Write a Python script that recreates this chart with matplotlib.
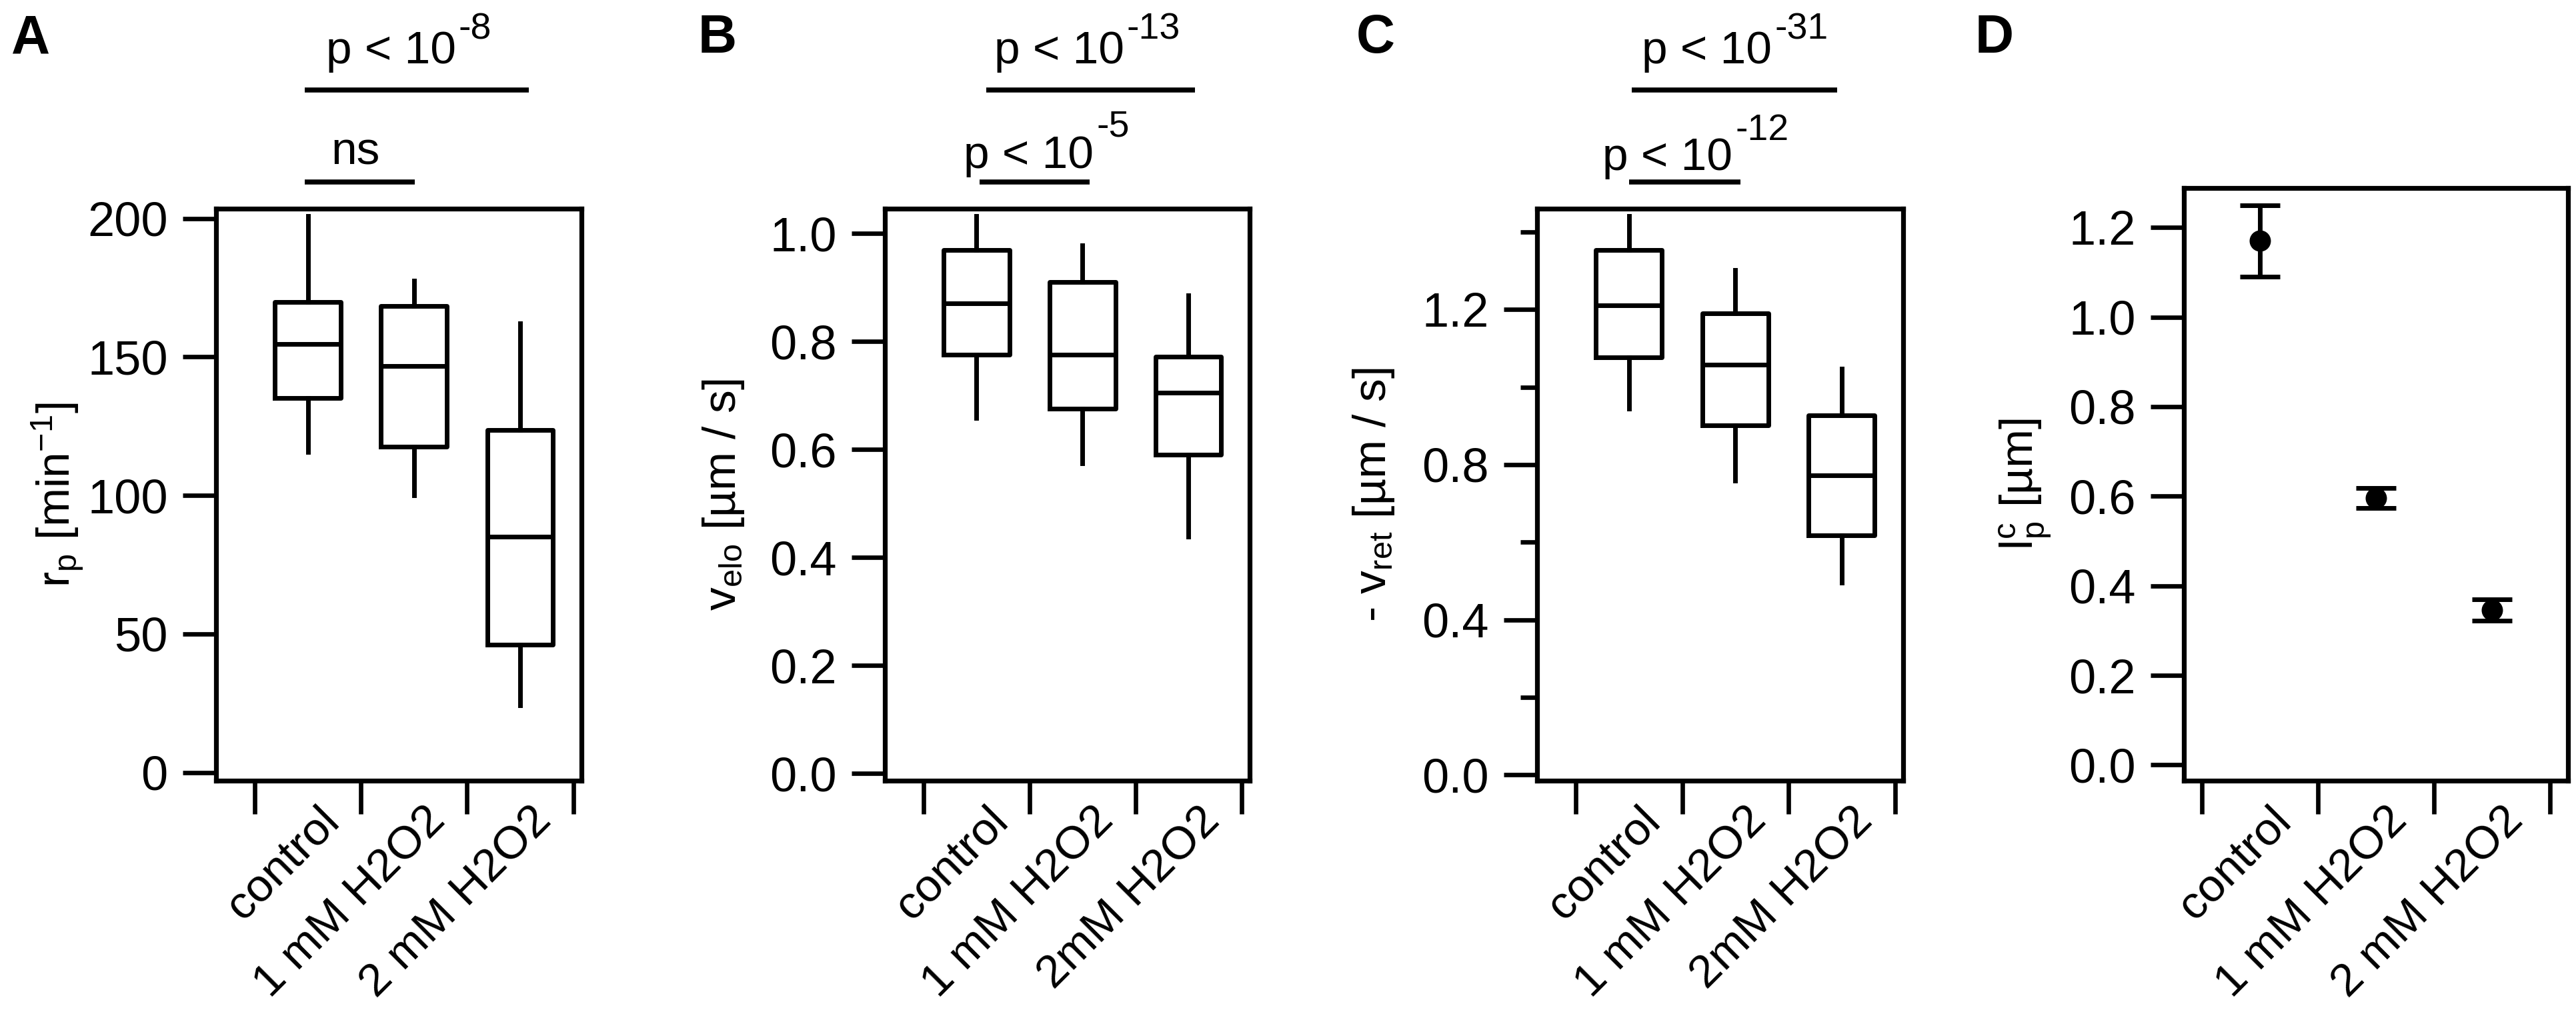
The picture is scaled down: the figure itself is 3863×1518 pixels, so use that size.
import matplotlib
matplotlib.use("Agg")
import matplotlib.pyplot as plt
from matplotlib.transforms import ScaledTranslation, blended_transform_factory

plt.rcParams['font.family'] = ['Liberation Sans', 'DejaVu Sans']
plt.rcParams['mathtext.fontset'] = 'custom'
plt.rcParams['mathtext.rm'] = 'Liberation Sans'
plt.rcParams['mathtext.it'] = 'Liberation Sans:italic'
plt.rcParams['mathtext.bf'] = 'Liberation Sans:bold'
plt.rcParams['mathtext.default'] = 'regular'

# ---------------- data ----------------
cats_AD = ["control", "1 mM H2O2", "2 mM H2O2"]
cats_BC = ["control", "1 mM H2O2", "2mM H2O2"]

# A: r_p [min^-1]
rp_whislo = [115.7, 100.1, 24.2]
rp_q1 = [135.2, 117.5, 46.0]
rp_med = [154.6, 146.8, 85.1]
rp_q3 = [169.8, 168.3, 123.7]
rp_whishi = [200.8, 177.5, 162.1]

# B: v_elo [um/s]
velo_whislo = [0.659, 0.575, 0.439]
velo_q1 = [0.776, 0.676, 0.590]
velo_med = [0.871, 0.776, 0.705]
velo_q3 = [0.969, 0.910, 0.772]
velo_whishi = [1.032, 0.978, 0.886]

# C: -v_ret [um/s]
vret_whislo = [0.944, 0.758, 0.495]
vret_q1 = [1.077, 0.902, 0.618]
vret_med = [1.210, 1.058, 0.773]
vret_q3 = [1.353, 1.190, 0.927]
vret_whishi = [1.441, 1.302, 1.047]

# D: l_p^c [um]
lp_mean = [1.170, 0.596, 0.346]
lp_err = [0.080, 0.023, 0.024]

# significance annotations
sigA = [("p < 10", "-8"), ("ns", None)]
sigB = [("p < 10", "-13"), ("p < 10", "-5")]
sigC = [("p < 10", "-31"), ("p < 10", "-12")]

# ---------------- layout ----------------
W, H, DPI = 3863, 1518, 200
fig = plt.figure(figsize=(W / DPI, H / DPI), dpi=DPI)

def rect(l, t, r, b):
    return [l / W, 1 - b / H, (r - l) / W, (b - t) / H]

LW = 2.5
TICKLEN = 18
FS_YTICK = 26
FS_XTICK = 25
FS_LAB = 25

axA = fig.add_axes(rect(324, 313, 872, 1171))
axB = fig.add_axes(rect(1327, 313, 1874, 1171))
axC = fig.add_axes(rect(2305, 313, 2854, 1171))
axD = fig.add_axes(rect(3275, 282, 3851, 1171))


def style(ax, cats, xlim, ylim, yticks, yfmt, ylabel, labx, yminor=None):
    for s in ax.spines.values():
        s.set_linewidth(2.6)
    ax.set_xlim(*xlim)
    ax.set_ylim(*ylim)
    ax.set_yticks(yticks)
    ax.set_yticklabels([yfmt.format(v) for v in yticks])
    if yminor is not None:
        ax.set_yticks(yminor, minor=True)
    ax.set_xticks([0.5, 1.5, 2.5, 3.5])
    ax.set_xticklabels([])
    ax.set_xticks([1, 2, 3], minor=True)
    ax.tick_params(axis='both', which='major', direction='out', length=TICKLEN,
                   width=2.4, labelsize=FS_YTICK, pad=8)
    ax.tick_params(axis='y', which='minor', direction='out', length=9, width=2.4)
    ax.tick_params(axis='x', which='minor', length=0, pad=10, labelsize=FS_XTICK)
    ax.set_xticklabels(cats, minor=True, rotation=45, ha='right', va='top',
                       rotation_mode='anchor')
    for lbl in ax.get_xticklabels(minor=True):
        lbl.set_transform(lbl.get_transform() +
                          ScaledTranslation(14 / DPI, 0, fig.dpi_scale_trans))
    ax.set_ylabel(ylabel, fontsize=FS_LAB)
    ax.yaxis.set_label_coords(labx, 0.5)


def boxes(ax, lo, q1, med, q3, hi):
    stats = [dict(whislo=a, q1=b, med=c, q3=d, whishi=e, fliers=[])
             for a, b, c, d, e in zip(lo, q1, med, q3, hi)]
    ax.bxp(stats, positions=[1, 2, 3], widths=0.62, showcaps=False,
           showfliers=False, manage_ticks=False,
           boxprops=dict(color='k', linewidth=LW),
           whiskerprops=dict(color='k', linewidth=LW),
           medianprops=dict(color='k', linewidth=LW))


def sig(ax, x0, x1, ybar, xt, ytxt, base, exp, rise):
    tr = blended_transform_factory(ax.transData, ax.transAxes)
    ax.plot([x0, x1], [ybar, ybar], transform=tr, color='k', lw=2.7,
            clip_on=False, solid_capstyle='butt')
    t = ax.text(xt, ytxt, base, transform=tr, ha='left', va='baseline',
                fontsize=25, clip_on=False)
    if exp:
        ax.annotate(exp, xy=(1, ytxt), xycoords=(t, tr), xytext=(1.5, rise),
                    textcoords='offset points', ha='left', va='baseline',
                    fontsize=20)


# Panel A
boxes(axA, rp_whislo, rp_q1, rp_med, rp_q3, rp_whishi)
style(axA, cats_AD, (0.135, 3.578), (-3, 203.5), [0, 50, 100, 150, 200], "{:.0f}",
      r'r$_p$ [min$^{-1}$]', -0.358)
sig(axA, 0.97, 3.08, 1.207, 1.17, 1.254, *sigA[0], 13)
sig(axA, 0.97, 2.01, 1.047, 1.22, 1.077, *sigA[1], 0)

# Panel B
boxes(axB, velo_whislo, velo_q1, velo_med, velo_q3, velo_whishi)
style(axB, cats_BC, (0.135, 3.578), (-0.013, 1.046), [0, 0.2, 0.4, 0.6, 0.8, 1.0],
      "{:.1f}", r'v$_{elo}$ [µm / s]', -0.38)
sig(axB, 1.09, 3.06, 1.207, 1.165, 1.254, *sigB[0], 13)
sig(axB, 1.03, 2.07, 1.047, 0.88, 1.071, *sigB[1], 17)

# Panel C
boxes(axC, vret_whislo, vret_q1, vret_med, vret_q3, vret_whishi)
style(axC, cats_BC, (0.135, 3.578), (-0.015, 1.46), [0, 0.4, 0.8, 1.2], "{:.1f}",
      r'- v$_{ret}$ [µm / s]', -0.384, yminor=[0.2, 0.6, 1.0, 1.4])
sig(axC, 1.025, 2.96, 1.207, 1.12, 1.254, *sigC[0], 13)
sig(axC, 1.0, 2.045, 1.047, 0.75, 1.068, *sigC[1], 16)

# Panel D
axD.errorbar([1, 2, 3], lp_mean, yerr=lp_err, fmt='o', color='k', ms=10.5,
             elinewidth=LW, capsize=10.8, capthick=LW)
style(axD, cats_AD, (0.346, 3.654), (-0.035, 1.288), [0, 0.2, 0.4, 0.6, 0.8, 1.0, 1.2],
      "{:.1f}", r'l$_p^c$ [µm]', -0.341)

# panel letters
for letter, x in [("A", 17), ("B", 1047), ("C", 2034), ("D", 2962)]:
    fig.text(x / W, 1 - 79 / H, letter, ha='left', va='baseline',
             fontsize=29, fontweight='bold')

fig.savefig("out.png", dpi=DPI)
